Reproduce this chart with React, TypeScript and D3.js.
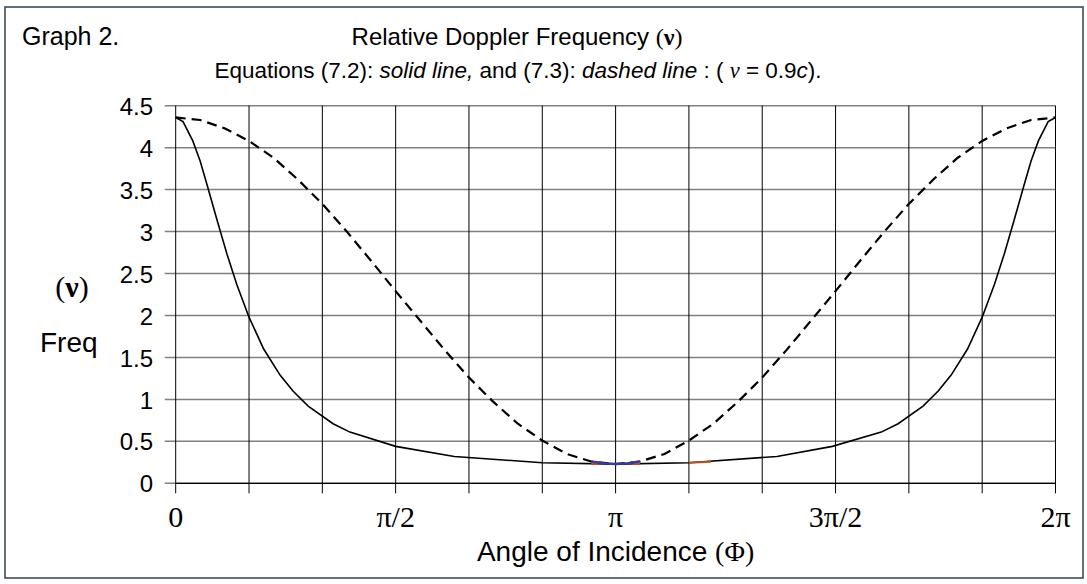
import React from "react";
import * as d3 from "d3";

// Angle of incidence in degrees, relative Doppler frequency values
const solidAngles = [0, 3, 7, 10, 13, 17, 21, 25, 30, 36, 42.7, 48, 54.2, 64.4, 71.3, 90, 114, 150, 180, 210, 246, 268.7, 288.7, 295.6, 305.8, 312, 317.3, 324, 330, 335, 339, 343, 347, 350, 353, 357, 360];
const solidValues = [4.36, 4.31, 4.08, 3.84, 3.54, 3.13, 2.73, 2.37, 1.98, 1.6, 1.29, 1.1, 0.92, 0.71, 0.61, 0.44, 0.32, 0.245, 0.229, 0.245, 0.32, 0.44, 0.61, 0.71, 0.92, 1.1, 1.29, 1.6, 1.98, 2.37, 2.73, 3.13, 3.54, 3.84, 4.08, 4.31, 4.36];

const dashedAngles = [0, 10, 20, 30, 40, 50, 60, 70, 80, 90, 100, 110, 120, 130, 140, 150, 160, 170, 180, 190, 200, 210, 220, 230, 240, 250, 260, 270, 280, 290, 300, 310, 320, 330, 340, 350, 360];
const dashedValues = [4.36, 4.33, 4.23, 4.08, 3.88, 3.62, 3.33, 3.0, 2.65, 2.29, 1.94, 1.59, 1.26, 0.97, 0.71, 0.51, 0.35, 0.26, 0.229, 0.26, 0.35, 0.51, 0.71, 0.97, 1.26, 1.59, 1.94, 2.29, 2.65, 3.0, 3.33, 3.62, 3.88, 4.08, 4.23, 4.33, 4.36];

// small coloured fragments visible near the minimum
const blueAngles = [170, 175, 180, 185, 190];
const blueValues = [0.26, 0.24, 0.229, 0.24, 0.26];
const orangeSegA = [170, 173];
const orangeSegB = [187, 190];
const orangeSegC = [210, 219];
const orangeValA = [0.231, 0.23];
const orangeValB = [0.23, 0.231];
const orangeValC = [0.245, 0.256];

const yTicks = [0, 0.5, 1, 1.5, 2, 2.5, 3, 3.5, 4, 4.5];
const yTickLabels = ["0", "0.5", "1", "1.5", "2", "2.5", "3", "3.5", "4", "4.5"];
const xGrid = [0, 30, 60, 90, 120, 150, 180, 210, 240, 270, 300, 330, 360];
const xLabelAngles = [0, 90, 180, 270, 360];
const xLabels = ["0", "π/2", "π", "3π/2", "2π"];

const W = 1087;
const H = 584;
const L = 175.7, R = 1055.5, T = 105.7, B = 483.3;

export default function App() {
  const x = d3.scaleLinear().domain([0, 360]).range([L, R]);
  const y = d3.scaleLinear().domain([0, 4.5]).range([B, T]);
  const line = d3
    .line<[number, number]>()
    .x((d) => x(d[0]))
    .y((d) => y(d[1]));
  const zip = (a: number[], b: number[]) => a.map((v, i) => [v, b[i]] as [number, number]);
  const sans = "Arial, 'Liberation Sans', Helvetica, sans-serif";
  const serif = "'Times New Roman', 'Liberation Serif', Times, serif";

  return (
    <svg
      width={W}
      height={H}
      style={{ position: "absolute", left: 0, top: 0, background: "#fff" }}
      fontFamily={sans}
    >
      <rect x={0} y={0} width={W} height={H} fill="#fff" />
      <rect x={5} y={7} width={1078} height={571} fill="none" stroke="#33404d" strokeWidth={1.5} />

      <text x={22} y={45} fontSize={25} fill="#000">Graph 2.</text>
      <text x={517} y={45} fontSize={24} textAnchor="middle" fill="#000">
        Relative Doppler Frequency <tspan fontFamily={serif}>(</tspan>
        <tspan fontFamily={serif} fontWeight="bold">ν</tspan>
        <tspan fontFamily={serif}>)</tspan>
      </text>
      <text x={518} y={78} fontSize={22.5} textAnchor="middle" fill="#000">
        Equations (7.2): <tspan fontStyle="italic">solid line,</tspan> and (7.3): <tspan fontStyle="italic">dashed line</tspan> : ( <tspan fontFamily={serif} fontStyle="italic">v</tspan> = 0.9<tspan fontStyle="italic">c</tspan>).
      </text>

      {/* horizontal gridlines (grey), extending left as ticks */}
      {yTicks.map((t) => (
        <line key={"h" + t} x1={L - 11} x2={R} y1={y(t)} y2={y(t)} stroke="#808080" strokeWidth={1.5} />
      ))}
      {/* vertical gridlines (black), extending below as ticks */}
      {xGrid.map((t) => (
        <line key={"v" + t} x1={x(t)} x2={x(t)} y1={T} y2={B + 10} stroke="#000" strokeWidth={1} />
      ))}
      <line x1={L} x2={R} y1={B} y2={B} stroke="#000" strokeWidth={1.2} />

      {yTicks.map((t, i) => (
        <text key={"yl" + t} x={153} y={y(t)} dy="0.38em" fontSize={24} textAnchor="end" fill="#000">
          {yTickLabels[i]}
        </text>
      ))}
      {xLabelAngles.map((a, i) => (
        <text key={"xl" + a} x={x(a)} y={527} fontSize={30} textAnchor="middle" fontFamily={serif} fill="#000">
          {xLabels[i]}
        </text>
      ))}
      <text x={(L + R) / 2} y={561} fontSize={28} textAnchor="middle" fill="#000">
        Angle of Incidence <tspan fontFamily={serif}>(Φ)</tspan>
      </text>
      <text x={72} y={297} fontSize={30} textAnchor="middle" fontFamily={serif} fill="#000">
        (<tspan fontWeight="bold">ν</tspan>)
      </text>
      <text x={40} y={352} fontSize={28} fill="#000">Freq</text>

      <path d={line(zip(dashedAngles, dashedValues)) || ""} fill="none" stroke="#000" strokeWidth={2.2} strokeDasharray="10,6" />
      <path d={line(zip(solidAngles, solidValues)) || ""} fill="none" stroke="#000" strokeWidth={1.6} />
      <path d={line(zip(orangeSegA, orangeValA)) || ""} fill="none" stroke="#c0501a" strokeWidth={2} />
      <path d={line(zip(orangeSegB, orangeValB)) || ""} fill="none" stroke="#c0501a" strokeWidth={2} />
      <path d={line(zip(orangeSegC, orangeValC)) || ""} fill="none" stroke="#c0501a" strokeWidth={2} />
      <path d={line(zip(blueAngles, blueValues)) || ""} fill="none" stroke="#3a3a9e" strokeWidth={2.5} />
    </svg>
  );
}
